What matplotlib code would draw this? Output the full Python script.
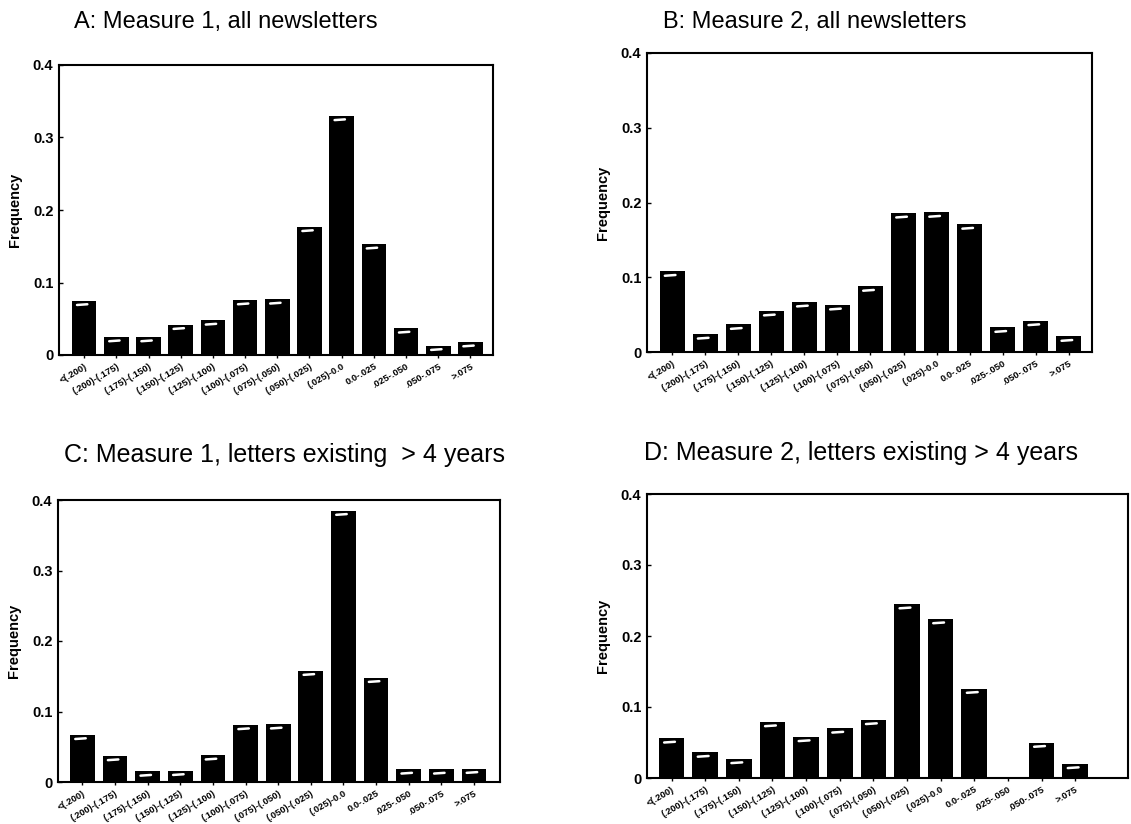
import matplotlib
matplotlib.use("Agg")
import matplotlib.pyplot as plt
import numpy as np

plt.rcParams['font.family'] = ['Liberation Sans', 'DejaVu Sans']

categories = ["<(.200)", "(.200)-(.175)", "(.175)-(.150)", "(.150)-(.125)",
              "(.125)-(.100)", "(.100)-(.075)", "(.075)-(.050)", "(.050)-(.025)",
              "(.025)-0.0", "0.0-.025", ".025-.050", ".050-.075", ">.075"]

freq_a = [0.075, 0.025, 0.025, 0.042, 0.048, 0.076, 0.077, 0.177, 0.330, 0.153, 0.037, 0.013, 0.018]
freq_b = [0.108, 0.024, 0.037, 0.055, 0.067, 0.063, 0.088, 0.186, 0.187, 0.171, 0.033, 0.042, 0.021]
freq_c = [0.067, 0.037, 0.015, 0.016, 0.038, 0.081, 0.082, 0.158, 0.385, 0.148, 0.018, 0.018, 0.019]
freq_d = [0.056, 0.036, 0.027, 0.079, 0.058, 0.070, 0.082, 0.245, 0.224, 0.126, 0.0, 0.050, 0.020]

titles = ["A: Measure 1, all newsletters",
          "B: Measure 2, all newsletters",
          "C: Measure 1, letters existing  > 4 years",
          "D: Measure 2, letters existing > 4 years"]
yticks = [0, 0.1, 0.2, 0.3, 0.4]
ytick_labels = ["0", "0.1", "0.2", "0.3", "0.4"]

W, H = 1131, 824
fig = plt.figure(figsize=(W / 100, H / 100), dpi=100)

# axes boxes in pixel coordinates: left, top, right, bottom
boxes = [(59, 65, 493, 355), (647, 53, 1092, 352),
         (58, 500, 500, 782), (647, 494, 1128, 778)]
xlims = [(-0.78, 12.7), (-0.76, 12.7), (-0.75, 12.8), (-0.73, 13.57)]
title_pos = [(226, 22, 17), (815, 22, 17), (285, 455, 18), (861, 453, 18)]

data = [freq_a, freq_b, freq_c, freq_d]

for i in range(4):
    l, t, r, b = boxes[i]
    ax = fig.add_axes([l / W, 1 - b / H, (r - l) / W, (b - t) / H])
    vals = np.array(data[i])
    x = np.arange(len(categories))
    ax.bar(x, vals, width=0.76, color='black', linewidth=0)
    # 3D-like highlight on top of each bar
    for xi, v in zip(x, vals):
        if v > 0:
            ax.plot([xi - 0.22, xi + 0.1], [v - 0.006, v - 0.005],
                    color='white', lw=1.8, solid_capstyle='round')
    ax.set_xlim(*xlims[i])
    ax.set_ylim(0, 0.4)
    ax.set_yticks(yticks)
    ax.set_yticklabels(ytick_labels, fontsize=10.5, fontweight='bold')
    ax.set_xticks(x)
    ax.set_xticklabels(categories, rotation=30, ha='right',
                       rotation_mode='anchor', fontsize=6.8, fontweight='bold')
    ax.tick_params(axis='y', direction='in', length=3, width=1, pad=4)
    ax.tick_params(axis='x', direction='out', length=2, width=1, pad=3)
    ax.set_ylabel("Frequency", fontsize=10.5, fontweight='bold', labelpad=8)
    for s in ax.spines.values():
        s.set_linewidth(1.5)
    tx, ty, fs = title_pos[i]
    fig.text(tx / W, 1 - ty / H, titles[i], ha='center', va='center', fontsize=fs)

fig.savefig("out.png", dpi=100)
